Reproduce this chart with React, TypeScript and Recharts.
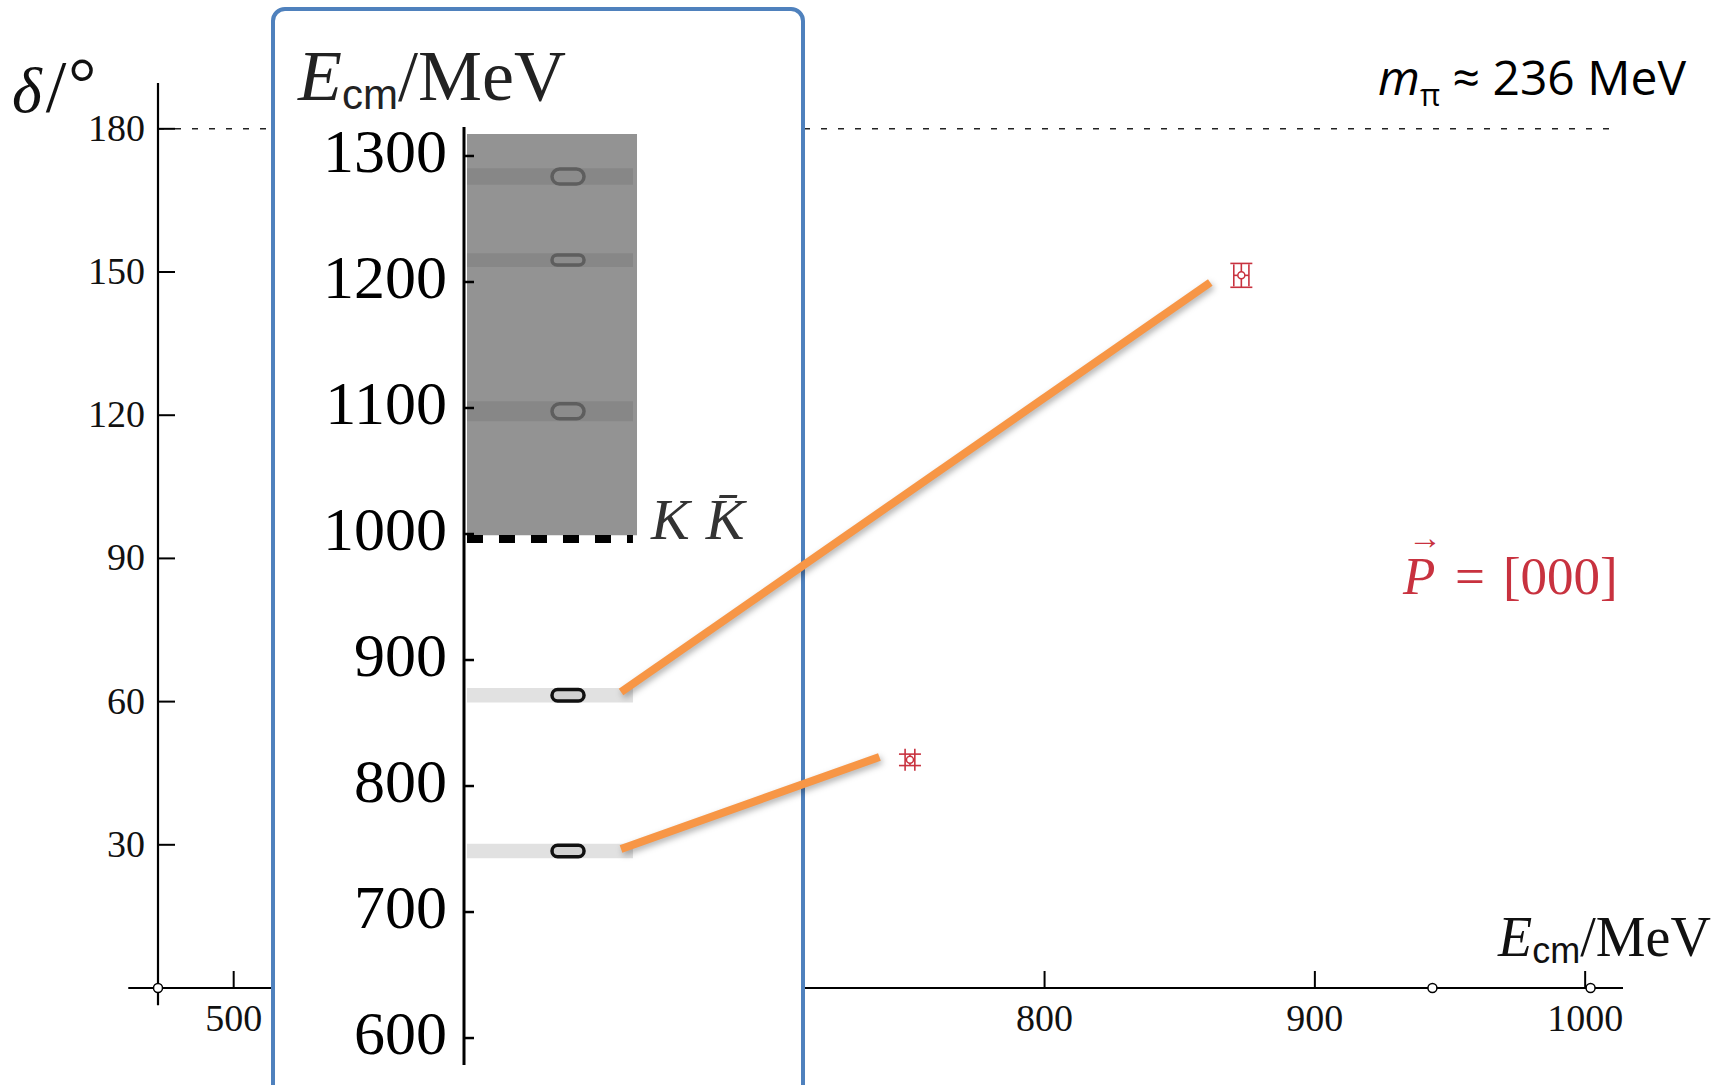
import {
  ComposedChart,
  XAxis,
  YAxis,
  Scatter,
  ErrorBar,
  Line,
  ReferenceLine,
  ReferenceDot,
  ReferenceArea,
} from 'recharts'

// phase shift points (main panel)
const phaseE = [750.2, 872.8]
const phaseDelta = [47.8, 149.3]
const phaseErrE = [1.8, 2.8]
const phaseErrDelta = [1.2, 2.5]

const xTicks = [500, 600, 700, 800, 900, 1000]
const yTicks = [30, 60, 90, 120, 150, 180]
// 2 m_pi, 4 m_pi, 2 m_K markers on the energy axis
const thresholds = [472, 943.5, 1002]

// finite volume spectrum (inset)
const levelE = [748.4, 872, 1097.4, 1217.4, 1283.7]
const levelBand = [5.8, 5.8, 8, 5.5, 6.5]
const levelStat = [4.5, 4.5, 6, 4, 6]
const insetTicks = [600, 700, 800, 900, 1000, 1100, 1200, 1300]
const kkThreshold = 996

// connector lines, drawn in main-panel coordinates
const linkStartE = [643.3, 643.3]
const linkStartDelta = [29.1, 62.0]
const linkEndE = [738.9, 861.3]
const linkEndDelta = [48.4, 147.8]

const serif = '"Liberation Serif", "DejaVu Serif", serif'
const sans = '"Liberation Sans", "DejaVu Sans", sans-serif'
const red = '#c8323f'
const orange = '#F79646'

const xDomain = [472, 1014]
const yDomain = [0, 189.6]
const mainMargin = { top: 83, right: 108, bottom: 47, left: 98 }

const points = phaseE.map((E, i) => ({
  E,
  d: phaseDelta[i],
  eE: phaseErrE[i],
  ed: phaseErrDelta[i],
}))

const levelPoints = levelE.map((e) => ({ x: 0.59, y: e }))

function MainXTick({ x, y, payload }: any) {
  return (
    <g>
      <line x1={x} y1={y} x2={x} y2={y - 17} stroke="#000" strokeWidth={2} />
      <text x={x} y={y + 43} textAnchor="middle" fontFamily={serif} fontSize={38} fill="#111">
        {payload.value}
      </text>
    </g>
  )
}

function MainYTick({ x, y, payload }: any) {
  return (
    <g>
      <line x1={x} y1={y} x2={x + 17} y2={y} stroke="#000" strokeWidth={2} />
      <text x={x - 13} y={y + 12} textAnchor="end" fontFamily={serif} fontSize={38} fill="#111">
        {payload.value}
      </text>
    </g>
  )
}

function InsetYTick({ x, y, payload }: any) {
  return (
    <g>
      <line x1={x} y1={y} x2={x + 10} y2={y} stroke="#000" strokeWidth={2.5} />
      <text x={x - 17} y={y + 16} textAnchor="end" fontFamily={serif} fontSize={62} fill="#000">
        {payload.value}
      </text>
    </g>
  )
}

function Lozenge(props: any, stroke: string, fill: string) {
  const { x, y, width, height } = props
  return (
    <rect
      x={x}
      y={y}
      width={width}
      height={height}
      rx={height / 2}
      ry={height / 2}
      fill={fill}
      stroke={stroke}
      strokeWidth={3.5}
    />
  )
}

function MainChart() {
  return (
    <ComposedChart width={1731} height={1085} margin={mainMargin}>
      <XAxis
        dataKey="E"
        type="number"
        domain={xDomain}
        allowDataOverflow
        ticks={xTicks}
        axisLine={false}
        tickLine={false}
        tickSize={0}
        tickMargin={0}
        height={50}
        tick={<MainXTick />}
      />
      <YAxis
        type="number"
        domain={yDomain}
        allowDataOverflow
        ticks={yTicks}
        axisLine={false}
        tickLine={false}
        tickSize={0}
        tickMargin={0}
        width={60}
        tick={<MainYTick />}
      />
      <ReferenceLine
        segment={[{ x: 472, y: 180 }, { x: 1011, y: 180 }]}
        stroke="#222"
        strokeWidth={1.5}
        strokeDasharray="6 11"
        ifOverflow="visible"
      />
      <ReferenceLine
        segment={[{ x: 461, y: 0 }, { x: 1014, y: 0 }]}
        stroke="#000"
        strokeWidth={2.2}
        ifOverflow="visible"
      />
      <ReferenceLine
        segment={[{ x: 472, y: -3.6 }, { x: 472, y: 189.6 }]}
        stroke="#000"
        strokeWidth={2.2}
        ifOverflow="visible"
      />
      {thresholds.map((t) => (
        <ReferenceDot
          key={t}
          x={t}
          y={0}
          r={4.5}
          fill="#fff"
          stroke="#000"
          strokeWidth={1.5}
          ifOverflow="visible"
        />
      ))}
      <Scatter
        data={points}
        dataKey="d"
        isAnimationActive={false}
        shape={(p: any) => (
          <circle cx={p.cx} cy={p.cy} r={3.5} fill="#fff" stroke={red} strokeWidth={1.5} />
        )}
      >
        <ErrorBar dataKey="eE" direction="x" width={11} stroke={red} strokeWidth={1.6} />
        <ErrorBar dataKey="ed" direction="y" width={11} stroke={red} strokeWidth={1.6} />
      </Scatter>
    </ComposedChart>
  )
}

function LinkChart() {
  return (
    <ComposedChart
      width={1731}
      height={1085}
      margin={{ top: 83, right: 108, bottom: 97, left: 158 }}
    >
      <XAxis dataKey="E" type="number" domain={xDomain} allowDataOverflow hide />
      <YAxis type="number" domain={yDomain} allowDataOverflow hide />
      {linkStartE.map((_, i) => (
        <Line
          key={i}
          data={[
            { E: linkStartE[i], d: linkStartDelta[i] },
            { E: linkEndE[i], d: linkEndDelta[i] },
          ]}
          dataKey="d"
          stroke={orange}
          strokeWidth={8}
          dot={false}
          activeDot={false}
          isAnimationActive={false}
        />
      ))}
    </ComposedChart>
  )
}

function InsetChart() {
  return (
    <ComposedChart
      width={525}
      height={1072}
      data={levelPoints}
      margin={{ top: 114, right: 161, bottom: 20, left: 108 }}
    >
      <XAxis dataKey="x" type="number" domain={[0, 1]} allowDataOverflow hide />
      <YAxis
        type="number"
        domain={[578.6, 1323]}
        allowDataOverflow
        ticks={insetTicks}
        width={80}
        axisLine={{ stroke: '#000', strokeWidth: 3 }}
        tickLine={false}
        tickSize={0}
        tickMargin={0}
        tick={<InsetYTick />}
      />
      <ReferenceArea
        x1={0.017}
        x2={0.983}
        y1={999}
        y2={1317.5}
        fill="#939393"
        fillOpacity={1}
        stroke="none"
        ifOverflow="visible"
      />
      {levelE.map((e, i) => (
        <ReferenceArea
          key={'band' + i}
          x1={0.017}
          x2={0.96}
          y1={e - levelBand[i]}
          y2={e + levelBand[i]}
          fill={e > kkThreshold ? '#878787' : '#e1e1e1'}
          fillOpacity={1}
          stroke="none"
          ifOverflow="visible"
        />
      ))}
      {levelE.map((e, i) => (
        <ReferenceArea
          key={'loz' + i}
          x1={0.5}
          x2={0.682}
          y1={e - levelStat[i]}
          y2={e + levelStat[i]}
          ifOverflow="visible"
          shape={(p: any) =>
            e > kkThreshold ? Lozenge(p, '#5e5e5e', '#8c8c8c') : Lozenge(p, '#111', '#d2d2d2')
          }
        />
      ))}
      <ReferenceLine
        segment={[{ x: 0.017, y: kkThreshold }, { x: 0.96, y: kkThreshold }]}
        stroke="#000"
        strokeWidth={8}
        strokeDasharray="16 16"
        ifOverflow="visible"
      />
      <Scatter dataKey="y" isAnimationActive={false} shape={() => <g />} />
    </ComposedChart>
  )
}

function Labels() {
  return (
    <svg width={1731} height={1085} style={{ position: 'absolute', left: 0, top: 0 }}>
      <text x={12} y={112} fontFamily={serif} fontSize={64} fill="#111">
        <tspan fontStyle="italic">δ</tspan>
        <tspan dx={4} fontSize={74}>/</tspan>
        <tspan dx={2} dy={-6} fontSize={70}>°</tspan>
      </text>
      <text x={1498} y={956} fontFamily={serif} fontSize={56} fill="#111">
        <tspan fontStyle="italic">E</tspan>
        <tspan fontFamily={sans} fontSize={36} dy={7}>cm</tspan>
        <tspan dy={-7}>/MeV</tspan>
      </text>
      <text x={298} y={100} fontFamily={serif} fontSize={72} fill="#222">
        <tspan fontStyle="italic">E</tspan>
        <tspan fontFamily={sans} fontSize={42} dy={9}>cm</tspan>
        <tspan dy={-9}>/MeV</tspan>
      </text>
      <text x={651} y={539} fontFamily={serif} fontStyle="italic" fontSize={58} fill="#333">
        K<tspan dx={16}>K̄</tspan>
      </text>
      <text x={1686} y={95} textAnchor="end" fontFamily='"Open Sans", Lato, sans-serif' fontSize={48} fill="#000">
        <tspan fontStyle="italic">m</tspan>
        <tspan fontSize={31} dy={11}>π</tspan>
        <tspan dy={-11}> ≈ 236 MeV</tspan>
      </text>
      <text x={1403} y={594} fontFamily={serif} fontSize={53} fill={red}>
        <tspan fontStyle="italic">P</tspan>
        <tspan x={1408} y={549} fontSize={34}>→</tspan>
        <tspan x={1455} y={594}>=</tspan>
        <tspan dx={18}>[000]</tspan>
      </text>
    </svg>
  )
}

export default function App() {
  return (
    <div
      style={{
        position: 'absolute',
        left: 0,
        top: 0,
        width: 1731,
        height: 1085,
        overflow: 'hidden',
        background: '#fff',
      }}
    >
      <div style={{ position: 'absolute', left: 0, top: 0 }}>
        <MainChart />
      </div>
      <div
        style={{
          position: 'absolute',
          left: 271,
          top: 7,
          width: 534,
          height: 1120,
          boxSizing: 'border-box',
          border: '4.5px solid #4F81BD',
          borderRadius: 14,
          background: '#fff',
        }}
      />
      <div style={{ position: 'absolute', left: 276, top: 13 }}>
        <InsetChart />
      </div>
      <div
        style={{
          position: 'absolute',
          left: 0,
          top: 0,
          pointerEvents: 'none',
          filter: 'drop-shadow(2px 3px 3px rgba(0,0,0,0.3))',
        }}
      >
        <LinkChart />
      </div>
      <Labels />
    </div>
  )
}
